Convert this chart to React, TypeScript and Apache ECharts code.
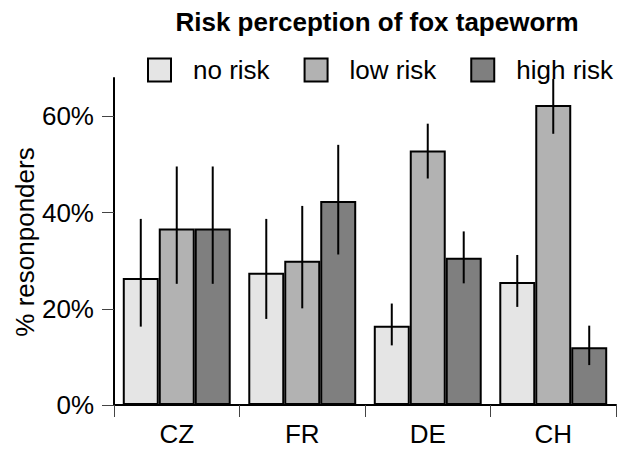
import React, { useEffect, useRef } from "react";
import * as echarts from "echarts";

const categories = ["CZ", "FR", "DE", "CH"];
const seriesNames = ["no risk", "low risk", "high risk"];
const noRisk = [26.4, 27.5, 16.5, 25.6];
const lowRisk = [36.7, 30.0, 52.9, 62.4];
const highRisk = [36.7, 42.4, 30.6, 12.0];
const noRiskLo = [16.3, 17.9, 12.4, 20.4];
const noRiskHi = [38.7, 38.7, 21.1, 31.2];
const lowRiskLo = [25.2, 20.1, 47.1, 56.4];
const lowRiskHi = [49.6, 41.4, 58.5, 67.8];
const highRiskLo = [25.2, 31.3, 25.3, 8.3];
const highRiskHi = [49.6, 54.1, 36.1, 16.5];
const yTicks = [0, 20, 40, 60];

const colors = ["#e5e5e5", "#b2b2b2", "#7f7f7f"];
const FONT = "'Liberation Sans', Arial, sans-serif";
const FS = 26;
const GAP = 0.14;

export default function App() {
  const ref = useRef<HTMLDivElement>(null);
  useEffect(() => {
    if (!ref.current) return;
    const chart = echarts.init(ref.current, null, { renderer: "svg" });
    const values = [noRisk, lowRisk, highRisk];
    const los = [noRiskLo, lowRiskLo, highRiskLo];
    const his = [noRiskHi, lowRiskHi, highRiskHi];

    const barSeries = seriesNames.map((name, i) => ({
      name,
      type: "bar",
      data: values[i],
      barGap: "0%",
      barCategoryGap: GAP * 100 + "%",
      itemStyle: { color: colors[i], borderColor: "#000", borderWidth: 2 },
      z: 2,
    }));

    const errSeries = seriesNames.map((name, i) => ({
      name: name + " err",
      type: "custom",
      z: 4,
      data: categories.map((_, c) => [c, los[i][c], his[i][c]]),
      encode: { x: 0, y: [1, 2] },
      renderItem: (params: any, api: any) => {
        const c = api.value(0);
        const p1 = api.coord([c, api.value(1)]);
        const p2 = api.coord([c, api.value(2)]);
        const catW = api.size([1, 0])[0];
        const barW = (catW * (1 - GAP)) / 3;
        const x = p1[0] + (i - 1) * barW;
        return {
          type: "line",
          shape: { x1: x, y1: p1[1], x2: x, y2: p2[1] },
          style: { stroke: "#000", lineWidth: 2 },
        };
      },
    }));

    chart.setOption({
      animation: false,
      textStyle: { fontFamily: FONT },
      title: {
        text: "Risk perception of fox tapeworm",
        left: 377,
        textAlign: "center",
        top: 9,
        padding: 0,
        textStyle: { fontFamily: FONT, fontSize: FS, fontWeight: "bold", color: "#000" },
      },
      legend: {
        data: seriesNames,
        left: 147,
        top: 57,
        padding: 0,
        itemWidth: 23,
        itemHeight: 23,
        itemGap: 34,
        icon: "rect",
        itemStyle: { borderColor: "#000", borderWidth: 2 },
        textStyle: { fontFamily: FONT, fontSize: FS, color: "#000", padding: [0, 0, 0, 17] },
      },
      grid: { left: 114, right: 2, top: 78, bottom: 44, containLabel: false },
      xAxis: {
        type: "category",
        data: categories,
        axisLine: { lineStyle: { color: "#000", width: 2 } },
        axisTick: { show: true, length: 12, lineStyle: { color: "#444", width: 1 } },
        axisLabel: { fontFamily: FONT, fontSize: FS, color: "#000", margin: 16 },
      },
      yAxis: {
        type: "value",
        min: 0,
        max: 68,
        interval: 20,
        splitLine: { show: false },
        axisLine: { show: true, lineStyle: { color: "#000", width: 2 } },
        axisTick: { show: true, length: 12, customValues: yTicks, lineStyle: { color: "#444", width: 1 } },
        axisLabel: {
          fontFamily: FONT,
          fontSize: FS,
          color: "#000",
          margin: 20,
          customValues: yTicks,
          formatter: "{value}%",
        },
      },
      graphic: [
        {
          type: "text",
          x: 25,
          y: 242,
          rotation: Math.PI / 2,
          style: {
            text: "% resonponders",
            fontFamily: FONT,
            fontSize: FS,
            fill: "#000",
            textAlign: "center",
            textVerticalAlign: "middle",
          },
        },
      ],
      series: [...barSeries, ...errSeries],
    });
    return () => chart.dispose();
  }, []);
  return (
    <div
      ref={ref}
      style={{ position: "fixed", left: 0, top: 0, width: 618, height: 449, background: "#fff" }}
    />
  );
}
